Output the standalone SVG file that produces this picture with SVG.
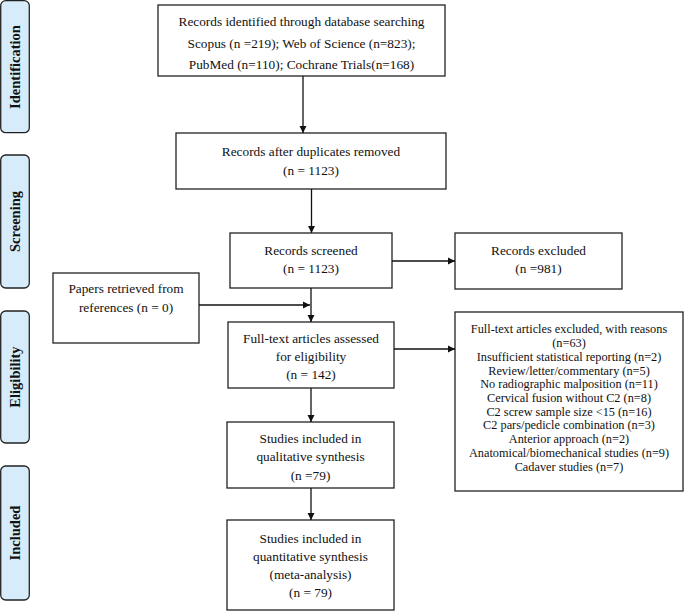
<svg xmlns="http://www.w3.org/2000/svg" width="685" height="611" viewBox="0 0 685 611">
<style>
.box{fill:#fff;stroke:#222;stroke-width:1.3}
.side{fill:#d6ecfb;stroke:#222;stroke-width:1.3}
.t{font-family:"Liberation Serif","Times New Roman",serif;font-size:13.3px;fill:#111;text-anchor:middle}
.s{font-family:"Liberation Serif","Times New Roman",serif;font-size:12.3px;fill:#111;text-anchor:middle}
.lab{font-family:"Liberation Serif","Times New Roman",serif;font-size:14.5px;font-weight:bold;fill:#111;text-anchor:middle}
.c{stroke:#111;stroke-width:1.3;fill:none}
</style>
<defs>
<marker id="ah" markerWidth="8" markerHeight="8" refX="7" refY="4" orient="auto" markerUnits="userSpaceOnUse">
<path d="M0,0.5 L7,4 L0,7.5 Z" fill="#111"/>
</marker>
</defs>
<g id="stage-identification"><rect class="side" x="0.7" y="0.7" width="28.6" height="132" rx="5"/><text class="lab" transform="translate(20,67) rotate(-90)">Identification</text></g>
<g id="stage-screening"><rect class="side" x="0.7" y="155" width="28.6" height="133" rx="5"/><text class="lab" transform="translate(20,221.5) rotate(-90)">Screening</text></g>
<g id="stage-eligibility"><rect class="side" x="0.7" y="311" width="28.6" height="132" rx="5"/><text class="lab" transform="translate(20,377) rotate(-90)">Eligibility</text></g>
<g id="stage-included"><rect class="side" x="0.7" y="466" width="28.6" height="134" rx="5"/><text class="lab" transform="translate(20,533) rotate(-90)">Included</text></g>

<g id="identified"><rect class="box" x="158" y="5" width="287" height="71"/>
<text class="t" x="301.5" y="25.5">Records identified through database searching</text>
<text class="t" x="301.5" y="47.5">Scopus (n =219); Web of Science (n=823);</text>
<text class="t" x="301.5" y="68.5">PubMed (n=110); Cochrane Trials(n=168)</text></g>

<g id="duplicates"><rect class="box" x="176" y="133" width="270" height="56"/>
<text class="t" x="311" y="156">Records after duplicates removed</text>
<text class="t" x="311" y="175">(n = 1123)</text></g>

<g id="screened"><rect class="box" x="230" y="233" width="162" height="55"/>
<text class="t" x="311" y="255">Records screened</text>
<text class="t" x="311" y="273">(n = 1123)</text></g>

<g id="excluded"><rect class="box" x="455" y="233" width="167" height="56"/>
<text class="t" x="538.5" y="255">Records excluded</text>
<text class="t" x="538.5" y="273">(n =981)</text></g>

<g id="references"><rect class="box" x="53" y="273" width="146" height="70"/>
<text class="t" x="126" y="293">Papers retrieved from</text>
<text class="t" x="126" y="312">references (n = 0)</text></g>

<g id="fulltext"><rect class="box" x="228" y="322" width="166" height="66"/>
<text class="t" x="311" y="343">Full-text articles assessed</text>
<text class="t" x="311" y="361">for eligibility</text>
<text class="t" x="311" y="379">(n = 142)</text></g>

<g id="fulltext-excluded"><rect class="box" x="455" y="312" width="228" height="179"/>
<text class="s" x="569" y="333.3">Full-text articles excluded, with reasons</text>
<text class="s" x="569" y="347">(n=63)</text>
<text class="s" x="569" y="360.8">Insufficient statistical reporting (n=2)</text>
<text class="s" x="569" y="374.5">Review/letter/commentary (n=5)</text>
<text class="s" x="569" y="388.2">No radiographic malposition (n=11)</text>
<text class="s" x="569" y="401.9">Cervical fusion without C2 (n=8)</text>
<text class="s" x="569" y="415.7">C2 screw sample size &lt;15 (n=16)</text>
<text class="s" x="569" y="429.4">C2 pars/pedicle combination (n=3)</text>
<text class="s" x="569" y="443">Anterior approach (n=2)</text>
<text class="s" x="569" y="456.8">Anatomical/biomechanical studies (n=9)</text>
<text class="s" x="569" y="470.5">Cadaver studies (n=7)</text></g>

<g id="qualitative"><rect class="box" x="227" y="422" width="167" height="66"/>
<text class="t" x="310.5" y="443">Studies included in</text>
<text class="t" x="310.5" y="461">qualitative synthesis</text>
<text class="t" x="310.5" y="480">(n =79)</text></g>

<g id="quantitative"><rect class="box" x="227" y="520" width="167" height="90"/>
<text class="t" x="310.5" y="543">Studies included in</text>
<text class="t" x="310.5" y="561">quantitative synthesis</text>
<text class="t" x="310.5" y="579">(meta-analysis)</text>
<text class="t" x="310.5" y="597">(n = 79)</text></g>

<g id="connectors">
<line class="c" x1="303" y1="76" x2="303" y2="133" marker-end="url(#ah)"/>
<line class="c" x1="311.5" y1="189" x2="311.5" y2="233" marker-end="url(#ah)"/>
<line class="c" x1="392" y1="261" x2="455" y2="261" marker-end="url(#ah)"/>
<line class="c" x1="311" y1="288" x2="311" y2="322" marker-end="url(#ah)"/>
<line class="c" x1="199" y1="305" x2="310" y2="305" marker-end="url(#ah)"/>
<line class="c" x1="394" y1="349" x2="455" y2="349" marker-end="url(#ah)"/>
<line class="c" x1="311" y1="388" x2="311" y2="422" marker-end="url(#ah)"/>
<line class="c" x1="311" y1="488" x2="311" y2="520" marker-end="url(#ah)"/>
</g>
</svg>
